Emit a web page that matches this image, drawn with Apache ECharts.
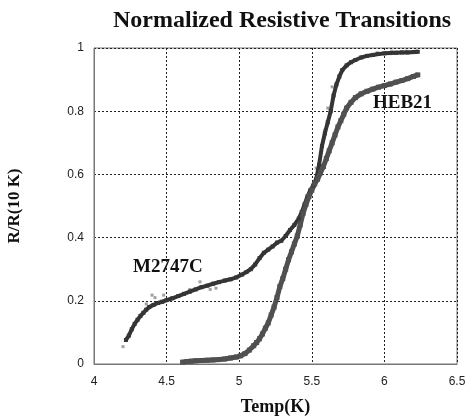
<!DOCTYPE html>
<html lang="en">
<head>
    <meta charset="UTF-8">
    <title>Normalized Resistive Transitions</title>
    <style>
        html, body { margin: 0; padding: 0; background: #fff; }
        #chart { width: 467px; height: 417px; }
    </style>
</head>
<body>
<div id="chart"></div>

<script src="https://cdn.jsdelivr.net/npm/echarts@6/dist/echarts.min.js"></script>
<script>
    // M2747C sample: temperature (K) and R/R(10 K)
    const m2747cTemp = [4.22, 4.24, 4.26, 4.28, 4.30, 4.32, 4.34, 4.36, 4.38, 4.41, 4.44, 4.47, 4.50, 4.54, 4.58,
        4.62, 4.66, 4.70, 4.74, 4.78, 4.82, 4.86, 4.90, 4.94, 4.98, 5.02, 5.05, 5.08, 5.11, 5.14, 5.17, 5.20, 5.23,
        5.26, 5.29, 5.32, 5.35, 5.38, 5.41, 5.43, 5.45, 5.47, 5.49, 5.51, 5.53, 5.55, 5.57, 5.59, 5.61, 5.63, 5.65,
        5.67, 5.69, 5.71, 5.74, 5.77, 5.80, 5.84, 5.88, 5.92, 5.96, 6.00, 6.04, 6.08, 6.12, 6.16, 6.20, 6.23];
    const m2747cR = [0.076, 0.09, 0.11, 0.127, 0.14, 0.152, 0.162, 0.172, 0.18, 0.187, 0.193, 0.197, 0.202, 0.208, 0.215,
        0.222, 0.229, 0.236, 0.243, 0.248, 0.254, 0.259, 0.264, 0.268, 0.274, 0.283, 0.291, 0.30, 0.315, 0.335, 0.352, 0.362, 0.372,
        0.384, 0.39, 0.405, 0.424, 0.44, 0.46, 0.48, 0.505, 0.53, 0.55, 0.565, 0.585, 0.63, 0.69, 0.73, 0.765, 0.80, 0.85,
        0.885, 0.91, 0.93, 0.945, 0.955, 0.962, 0.97, 0.975, 0.978, 0.981, 0.983, 0.984, 0.985, 0.986, 0.986, 0.987, 0.988];

    // HEB21 sample
    const heb21Temp = [4.61, 4.64, 4.67, 4.70, 4.74, 4.78, 4.82, 4.86, 4.90, 4.94, 4.98, 5.01, 5.04, 5.07, 5.10, 5.12,
        5.14, 5.16, 5.18, 5.20, 5.22, 5.24, 5.26, 5.28, 5.30, 5.32, 5.34, 5.36, 5.38, 5.40, 5.42, 5.44, 5.46, 5.48,
        5.50, 5.52, 5.54, 5.56, 5.58, 5.60, 5.62, 5.64, 5.66, 5.68, 5.70, 5.72, 5.74, 5.77, 5.80, 5.84, 5.88, 5.92,
        5.96, 6.00, 6.04, 6.08, 6.12, 6.16, 6.20, 6.23];
    const heb21R = [0.006, 0.008, 0.009, 0.010, 0.011, 0.012, 0.013, 0.014, 0.016, 0.019, 0.022, 0.026, 0.033, 0.044, 0.058, 0.068,
        0.08, 0.095, 0.113, 0.13, 0.155, 0.18, 0.21, 0.245, 0.27, 0.30, 0.33, 0.355, 0.38, 0.405, 0.44, 0.477, 0.505, 0.53,
        0.55, 0.57, 0.585, 0.605, 0.625, 0.65, 0.675, 0.70, 0.725, 0.75, 0.77, 0.79, 0.81, 0.828, 0.843, 0.855, 0.863, 0.87,
        0.876, 0.881, 0.886, 0.892, 0.897, 0.903, 0.91, 0.915];

    // isolated and lighter scattered points
    const strayTemp = [4.20, 4.36, 4.40, 4.42, 4.48, 4.66, 4.73, 4.80, 4.84, 5.53, 5.56, 5.58, 5.59, 5.61, 5.64, 5.95, 6.05, 6.15];
    const strayR = [0.055, 0.19, 0.218, 0.21, 0.218, 0.236, 0.26, 0.236, 0.24, 0.62, 0.667, 0.71, 0.74, 0.81, 0.877, 0.985, 0.99, 0.99];

    const xTicks = [4, 4.5, 5, 5.5, 6, 6.5];
    const yTicks = [0, 0.2, 0.4, 0.6, 0.8, 1];

    const pairs = (xs, ys) => xs.map((x, i) => [x, ys[i]]);

    const chart = echarts.init(document.getElementById('chart'));
    const serif = 'Liberation Serif';
    const sans = 'Liberation Sans';

    chart.setOption({
        animation: false,
        title: {
            text: 'Normalized Resistive Transitions',
            left: 108,
            top: 4,
            textStyle: { fontFamily: serif, fontWeight: 'bold', fontSize: 24, color: '#111' }
        },
        grid: {
            left: 94, right: 10, top: 48, bottom: 53,
            outerBoundsMode: 'none', containLabel: false,
            show: true, borderColor: '#777', borderWidth: 1, backgroundColor: 'transparent'
        },
        xAxis: {
            type: 'value',
            min: xTicks[0], max: xTicks[xTicks.length - 1], interval: 0.5,
            name: 'Temp(K)', nameLocation: 'middle', nameGap: 34,
            nameTextStyle: { fontFamily: serif, fontWeight: 'bold', fontSize: 18, color: '#111' },
            axisLine: { lineStyle: { color: '#777' } },
            axisTick: { show: false },
            axisLabel: { fontFamily: sans, fontSize: 12, color: '#222', margin: 12 },
            splitLine: { lineStyle: { color: '#222', type: [2, 2] } }
        },
        yAxis: {
            type: 'value',
            min: yTicks[0], max: yTicks[yTicks.length - 1], interval: 0.2,
            name: 'R/R(10 K)', nameLocation: 'middle', nameGap: 71,
            nameTextStyle: { fontFamily: serif, fontWeight: 'bold', fontSize: 17, color: '#111' },
            axisLine: { show: true, lineStyle: { color: '#777' } },
            axisTick: { show: false },
            axisLabel: { fontFamily: sans, fontSize: 12, color: '#222', margin: 10 },
            splitLine: { lineStyle: { color: '#222', type: [2, 2] } }
        },
        series: [{
            name: 'stray',
            type: 'scatter',
            data: pairs(strayTemp, strayR),
            symbol: 'rect',
            symbolSize: 3,
            itemStyle: { color: '#8a8a8a' }
        }, {
            name: 'M2747C',
            type: 'line',
            data: pairs(m2747cTemp, m2747cR),
            symbol: 'rect',
            symbolSize: 4,
            showAllSymbol: true,
            lineStyle: { width: 4, color: '#353535' },
            itemStyle: { color: '#353535' }
        }, {
            name: 'HEB21',
            type: 'line',
            data: pairs(heb21Temp, heb21R),
            symbol: 'rect',
            symbolSize: 5,
            showAllSymbol: true,
            lineStyle: { width: 5, color: '#505050' },
            itemStyle: { color: '#505050' }
        }],
        graphic: [{
            type: 'text', left: 133, top: 258,
            style: { text: 'M2747C', font: 'bold 19px "Liberation Serif"', fill: '#111' }
        }, {
            type: 'text', left: 373, top: 94,
            style: { text: 'HEB21', font: 'bold 19px "Liberation Serif"', fill: '#111' }
        }]
    });
</script>
</body>
</html>
